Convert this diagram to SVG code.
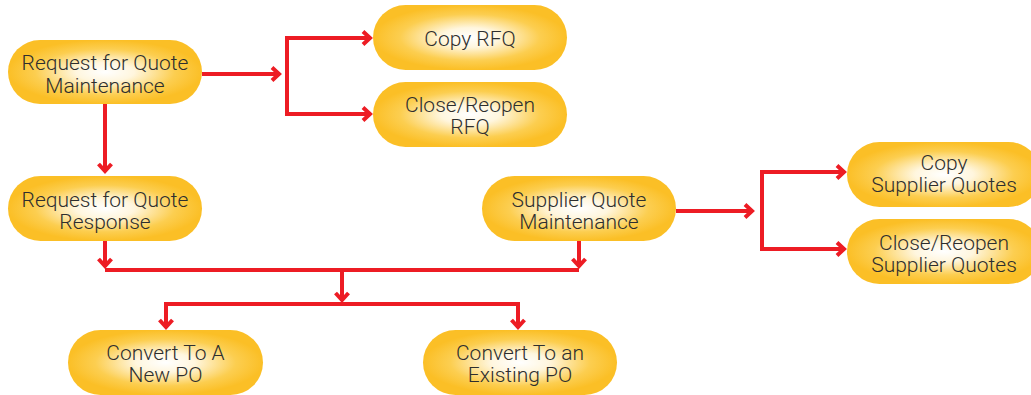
<svg xmlns="http://www.w3.org/2000/svg" width="1031" height="395" viewBox="0 0 1031 395">
<style>
.node rect{fill:url(#g);}
.node text{font-family:Roboto,"Liberation Sans",Arial,sans-serif;font-weight:300;font-size:21px;fill:#2e2e2e;text-anchor:middle;}
.conn path{fill:none;stroke:#ED1C24;stroke-width:4;}
.arr{marker-end:url(#ah);}
.arr2{marker-start:url(#ah);marker-end:url(#ah);}
</style>
<defs>
<radialGradient id="g" cx="50%" cy="50%" r="50%">
<stop offset="0" stop-color="#ffffff"/>
<stop offset="0.3" stop-color="#fff6de"/>
<stop offset="0.72" stop-color="#fcce50"/>
<stop offset="1" stop-color="#fbbf26"/>
</radialGradient>
<marker id="ah" markerUnits="userSpaceOnUse" markerWidth="20" markerHeight="20" viewBox="-12 -10 14 20" refX="0" refY="0" orient="auto-start-reverse">
<path d="M-8,-6.5 L-1,0 L-8,6.5" fill="none" stroke="#ED1C24" stroke-width="4"/>
</marker>
</defs>
<rect width="1031" height="395" fill="#fff"/>
<g class="conn">
<path class="arr" d="M105,104 V172"/>
<path class="arr" d="M202,74 H280"/>
<path class="arr2" d="M371,38 H287 V114 H371"/>
<path class="arr" d="M105,241 V267"/>
<path class="arr" d="M579,241 V267"/>
<path d="M105,270 H579"/>
<path class="arr" d="M342,272 V301"/>
<path class="arr2" d="M166,328 V304 H518 V328"/>
<path class="arr" d="M676,211 H753"/>
<path class="arr2" d="M845,172 H762 V249 H845"/>
</g>
<g id="rfq-maint" class="node"><rect x="8" y="40" width="194" height="64" rx="32"/><text x="105" y="70">Request for Quote</text><text x="105" y="93">Maintenance</text></g>
<g id="copy-rfq" class="node"><rect x="373" y="5" width="194" height="65" rx="32.5"/><text x="470" y="46">Copy RFQ</text></g>
<g id="close-rfq" class="node"><rect x="373" y="82" width="194" height="65" rx="32.5"/><text x="470" y="112">Close/Reopen</text><text x="470" y="134">RFQ</text></g>
<g id="rfq-resp" class="node"><rect x="8" y="176" width="194" height="65" rx="32.5"/><text x="105" y="207">Request for Quote</text><text x="105" y="229">Response</text></g>
<g id="sq-maint" class="node"><rect x="482" y="176" width="194" height="65" rx="32.5"/><text x="579" y="207">Supplier Quote</text><text x="579" y="229">Maintenance</text></g>
<g id="copy-sq" class="node"><rect x="847" y="142" width="194" height="65" rx="32.5"/><text x="944" y="170">Copy</text><text x="944" y="192">Supplier Quotes</text></g>
<g id="close-sq" class="node"><rect x="847" y="219" width="194" height="65" rx="32.5"/><text x="944" y="250">Close/Reopen</text><text x="944" y="272">Supplier Quotes</text></g>
<g id="new-po" class="node"><rect x="68" y="330" width="195" height="65" rx="32.5"/><text x="165.5" y="360">Convert To A</text><text x="165.5" y="382">New PO</text></g>
<g id="existing-po" class="node"><rect x="423" y="330" width="194" height="65" rx="32.5"/><text x="520" y="360">Convert To an</text><text x="520" y="382">Existing PO</text></g>
</svg>
